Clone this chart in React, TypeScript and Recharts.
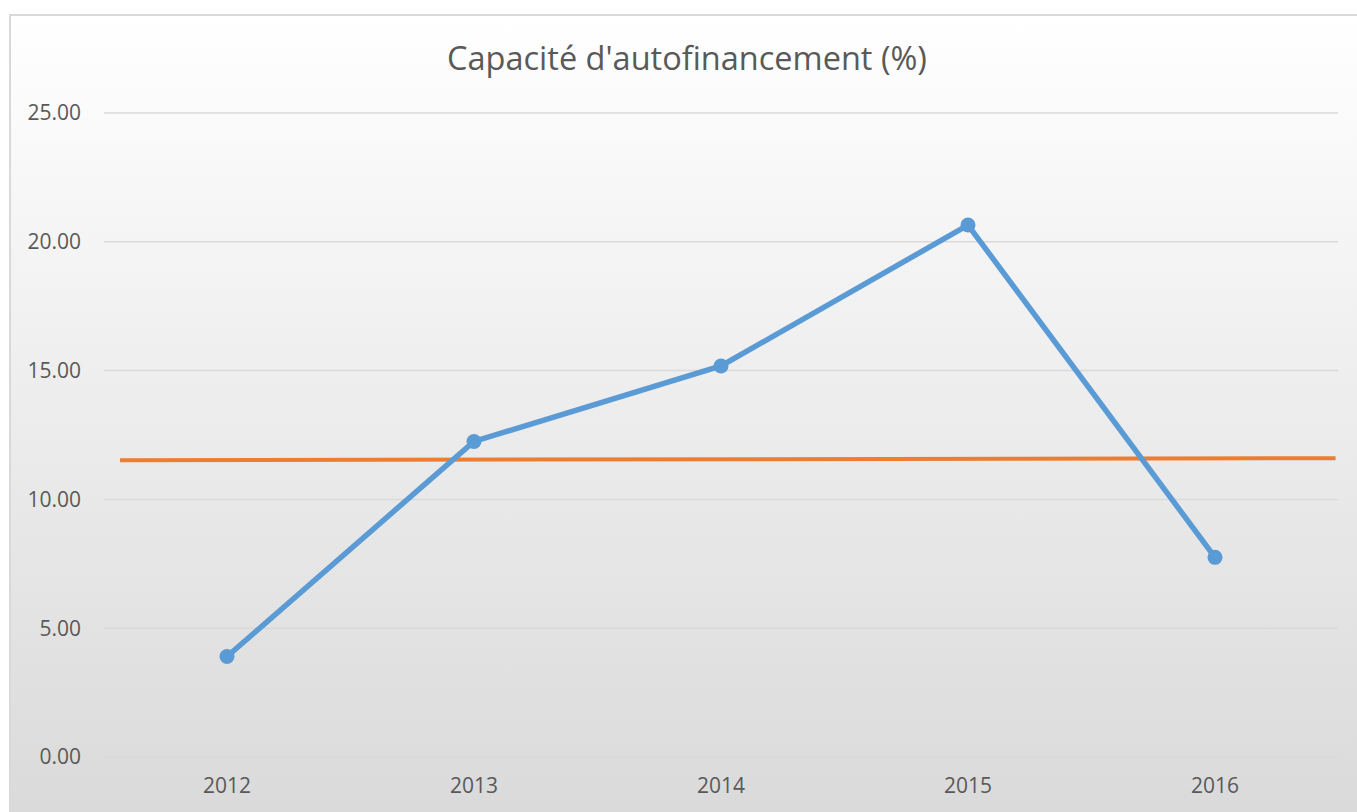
import React from 'react';
import { LineChart, Line, XAxis, YAxis, CartesianGrid } from 'recharts';

const years = ['2012', '2013', '2014', '2015', '2016'];
const capacite = [3.9, 12.25, 15.18, 20.65, 7.75];
const yTicks = [0, 5, 10, 15, 20, 25];
const moyenneX = [0.065, 4.99];
const moyenneY = [11.52, 11.6];

const data = years.map((y, i) => ({ year: y, v: capacite[i] }));
const lineData = moyenneX.map((x, i) => ({ x, m: moyenneY[i] }));

const FONT = '"Open Sans", "DejaVu Sans", sans-serif';

export default function App() {
  return (
    <div style={{ position: 'relative', width: 1357, height: 812, overflow: 'hidden' }}>
      <style>{`html,body{margin:0;padding:0;overflow:hidden}`}</style>
      <div
        style={{
          position: 'absolute',
          left: 9,
          top: 14,
          width: 1356,
          height: 820,
          boxSizing: 'border-box',
          border: '2px solid #d9d9d9',
          background: 'linear-gradient(to bottom, #ffffff 0%, #d9d9d9 100%)',
        }}
      />
      <div
        style={{
          position: 'absolute',
          left: 9,
          width: 1356,
          top: 36,
          textAlign: 'center',
          fontFamily: FONT,
          fontSize: 32.5,
          color: '#595959',
          lineHeight: '44px',
          whiteSpace: 'nowrap',
        }}
      >
        Capacité d'autofinancement (%)
      </div>
      <div style={{ position: 'absolute', left: 0, top: 0 }}>
        <LineChart
          width={1357}
          height={812}
          data={data}
          margin={{ top: 113, right: 19, bottom: 0, left: 0 }}
        >
          <CartesianGrid vertical={false} stroke="#d9d9d9" strokeWidth={1.5} xAxisId="cat" />
          <XAxis
            xAxisId="cat"
            dataKey="year"
            type="category"
            axisLine={false}
            tickLine={false}
            tickSize={0}
            tickMargin={21}
            height={55}
            padding={{ left: 123, right: 123 }}
            tick={{ fill: '#595959', fontSize: 21, fontFamily: FONT }}
          />
          <XAxis xAxisId="num" type="number" dataKey="x" domain={[0, 5]} hide allowDataOverflow />
          <YAxis
            domain={[0, 25]}
            ticks={yTicks}
            width={104}
            axisLine={false}
            tickLine={false}
            tickSize={0}
            tickMargin={23}
            tickFormatter={(v: number) => v.toFixed(2)}
            tick={{ fill: '#595959', fontSize: 21, fontFamily: FONT }}
          />
          <Line
            xAxisId="num"
            data={lineData}
            dataKey="m"
            stroke="#ed7d31"
            strokeWidth={4}
            dot={false}
            activeDot={false}
            isAnimationActive={false}
          />
          <Line
            xAxisId="cat"
            dataKey="v"
            stroke="#5b9bd5"
            strokeWidth={5.5}
            dot={{ r: 7.5, fill: '#5b9bd5', stroke: '#5b9bd5', strokeWidth: 0 }}
            activeDot={false}
            isAnimationActive={false}
          />
        </LineChart>
      </div>
    </div>
  );
}
